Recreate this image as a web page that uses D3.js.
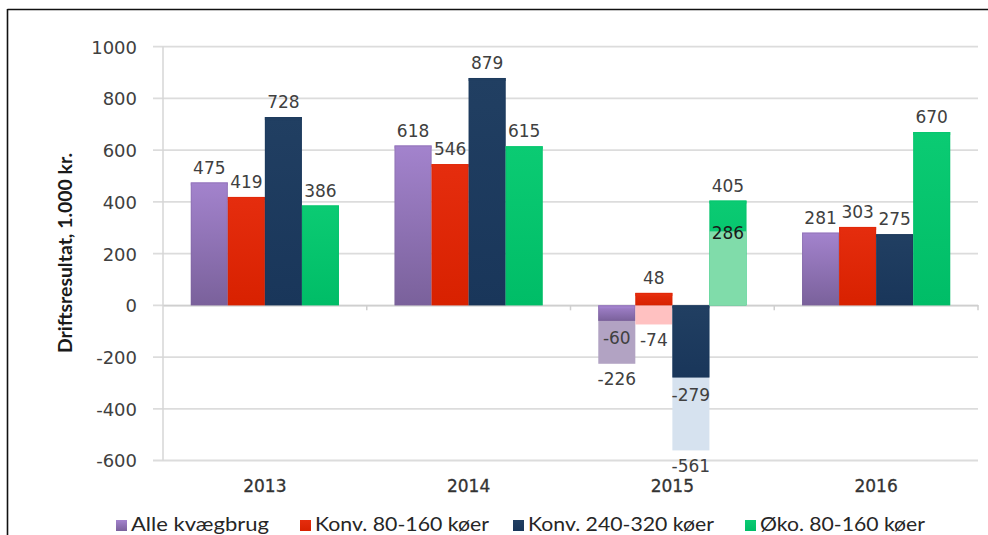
<!DOCTYPE html>
<html>
<head>
<meta charset="utf-8">
<script src="https://cdn.jsdelivr.net/npm/d3@7"></script>
<style>
  html, body { margin: 0; padding: 0; background: #fff; }
  svg { display: block; }
</style>
</head>
<body>
<svg id="chart" width="988" height="535"></svg>
<script>
// ---------- data ----------
const categories = ["2013", "2014", "2015", "2016"];
const seriesNames = ["Alle kvægbrug", "Konv. 80-160 køer", "Konv. 240-320 køer", "Øko. 80-160 køer"];
const alleKvaegbrug = [475, 618, -60, 281];
const konv80_160 = [419, 546, 48, 303];
const konv240_320 = [728, 879, -279, 275];
const oko80_160 = [386, 615, 405, 670];
// second (lighter) values shown for 2015
const altCategory = "2015";
const alt2015 = [-226, -74, -561, 286];
const yTicks = [-600, -400, -200, 0, 200, 400, 600, 800, 1000];
const yTitle = "Driftsresultat, 1.000 kr.";

const seriesValues = [alleKvaegbrug, konv80_160, konv240_320, oko80_160];
const solidTop = ["#a383cd", "#e52d0e", "#213f62", "#0bcb73"];
const solidBottom = ["#7a619b", "#d82100", "#19365a", "#00bd67"];
const lightFill = ["#b2a3c3", "#ffc1c1", "#d6e2ef", "#80dcaa"];

// ---------- layout ----------
const svg = d3.select("#chart");
const plotL = 163, plotR = 978, plotT = 46.7, plotB = 460.5;

const x0 = d3.scaleBand().domain(categories).range([plotL, plotR]).padding(0);
const x1 = d3.scaleBand().domain(d3.range(seriesNames.length))
  .range([0, x0.bandwidth()]).paddingInner(0).paddingOuter(0.75);
const y = d3.scaleLinear().domain([-600, 1000]).range([plotB, plotT]);

// frame
svg.append("line").attr("x1", 7.5).attr("x2", 988).attr("y1", 9.5).attr("y2", 9.5)
  .attr("stroke", "#111").attr("stroke-width", 1.6);
svg.append("line").attr("x1", 7.5).attr("x2", 7.5).attr("y1", 9).attr("y2", 535)
  .attr("stroke", "#111").attr("stroke-width", 1.6);

// gradients
const defs = svg.append("defs");
seriesNames.forEach((s, i) => {
  const g = defs.append("linearGradient").attr("id", "grad" + i)
    .attr("x1", 0).attr("x2", 0).attr("y1", 0).attr("y2", 1);
  g.append("stop").attr("offset", "0%").attr("stop-color", solidTop[i]);
  g.append("stop").attr("offset", "100%").attr("stop-color", solidBottom[i]);
});

// gridlines
svg.append("g").selectAll("line").data(yTicks).join("line")
  .attr("x1", plotL - 10).attr("x2", plotR)
  .attr("y1", d => y(d)).attr("y2", d => y(d))
  .attr("stroke", "#dcdcdc").attr("stroke-width", 1.8);

// y axis line
svg.append("line").attr("x1", plotL).attr("x2", plotL).attr("y1", y(1000)).attr("y2", y(-600))
  .attr("stroke", "#d6d6d6").attr("stroke-width", 1.5);

// x axis (at zero) with category ticks
const xAxis = d3.axisBottom(x0).tickValues([]).tickSizeOuter(0);
svg.append("g").attr("transform", `translate(0,${y(0)})`).call(xAxis)
  .call(g => g.select(".domain").attr("stroke", "#cfcfcf").attr("stroke-width", 1.5));
svg.append("g").selectAll("line").data(categories.slice(1).concat(["__end"])).join("line")
  .attr("x1", d => d === "__end" ? plotR : x0(d)).attr("x2", d => d === "__end" ? plotR : x0(d))
  .attr("y1", y(0)).attr("y2", y(0) + 5)
  .attr("stroke", "#cfcfcf").attr("stroke-width", 1.5);

// y tick labels (hyphen-minus as in the original)
const yAxis = d3.axisLeft(y).tickValues(yTicks).tickSize(0).tickPadding(0).tickFormat(d => String(d));
svg.append("g").attr("transform", `translate(137,0)`).call(yAxis)
  .call(g => g.select(".domain").remove())
  .call(g => g.selectAll("text")
    .attr("font-family", "DejaVu Sans").attr("font-size", 18).attr("fill", "#404040")
    .attr("dy", "0.36em"));

// y title
svg.append("text")
  .attr("transform", `translate(72,253) rotate(-90)`)
  .attr("text-anchor", "middle")
  .attr("font-family", "Lato").attr("font-weight", 700).attr("font-size", 18)
  .attr("fill", "#1a1a1a")
  .attr("textLength", 200).attr("lengthAdjust", "spacingAndGlyphs")
  .text(yTitle);

// bars
const barsG = svg.append("g");
const labelsG = svg.append("g");
const labelFont = { family: "DejaVu Sans", size: 17, fill: "#404040" };

function barRect(g, cx, w, v, fill) {
  const top = Math.min(y(v), y(0)), h = Math.abs(y(v) - y(0));
  g.append("rect").attr("x", cx).attr("width", w).attr("y", top).attr("height", h).attr("fill", fill);
  return { top, h };
}
function addLabel(cx, yy, text, fill) {
  labelsG.append("text").attr("x", cx).attr("y", yy)
    .attr("text-anchor", "middle").attr("dy", "0.36em")
    .attr("font-family", labelFont.family).attr("font-size", labelFont.size)
    .attr("fill", fill || labelFont.fill).text(text);
}

categories.forEach((cat, ci) => {
  seriesNames.forEach((s, si) => {
    const v = seriesValues[si][ci];
    const bx = x0(cat) + x1(si);
    const bw = x1.bandwidth();
    const cx = bx + bw / 2;
    const hasAlt = cat === altCategory;
    const a = hasAlt ? alt2015[si] : null;

    const drawSolid = () => {
      const r = barRect(barsG, bx, bw, v, `url(#grad${si})`);
      barsG.append("rect").attr("x", bx).attr("width", bw)
        .attr("y", r.top).attr("height", Math.min(3, r.h))
        .attr("fill", solidTop[si]).attr("opacity", 0.9);
      barsG.append("rect").attr("x", bx + 0.5).attr("width", bw - 1).attr("y", r.top + 0.5)
        .attr("height", Math.max(0, r.h - 1)).attr("fill", "none")
        .attr("stroke", solidBottom[si]).attr("stroke-opacity", 0.35).attr("stroke-width", 1);
    };
    const drawLight = () => barRect(barsG, bx, bw, a, lightFill[si]);

    if (hasAlt) {
      // larger magnitude drawn first, smaller on top
      const altCovered = Math.sign(a) === Math.sign(v) && Math.abs(a) < Math.abs(v);
      if (altCovered) { drawSolid(); drawLight(); } else { drawLight(); drawSolid(); }

      addLabel(cx, v >= 0 ? y(v) - 15 : y(v) + 17, String(v));
      if (altCovered) addLabel(cx, y(a) + 2, String(a), "#1a1a1a");
      else addLabel(cx, a >= 0 ? y(a) - 15 : y(a) + 15, String(a));
    } else {
      drawSolid();
      addLabel(cx, v >= 0 ? y(v) - 15 : y(v) + 17, String(v));
    }
  });
});

// category labels
svg.append("g").selectAll("text").data(categories).join("text")
  .attr("x", d => x0(d) + x0.bandwidth() / 2).attr("y", 492)
  .attr("text-anchor", "middle")
  .attr("font-family", "DejaVu Sans").attr("font-size", 17).attr("fill", "#333")
  .attr("stroke", "#333").attr("stroke-width", 0.3)
  .text(d => d);

// legend
const legendSquareX = [116, 300, 513, 745];
const legendTextW = [138, 174, 186, 165];
const lg = svg.append("g");
seriesNames.forEach((s, i) => {
  lg.append("rect").attr("x", legendSquareX[i]).attr("y", 520).attr("width", 11).attr("height", 11)
    .attr("fill", `url(#grad${i})`);
  lg.append("text").attr("x", legendSquareX[i] + 15).attr("y", 531)
    .attr("font-family", "Lato").attr("font-size", 19).attr("fill", "#262626")
    .attr("textLength", legendTextW[i]).attr("lengthAdjust", "spacingAndGlyphs")
    .text(s);
});
</script>
</body>
</html>
